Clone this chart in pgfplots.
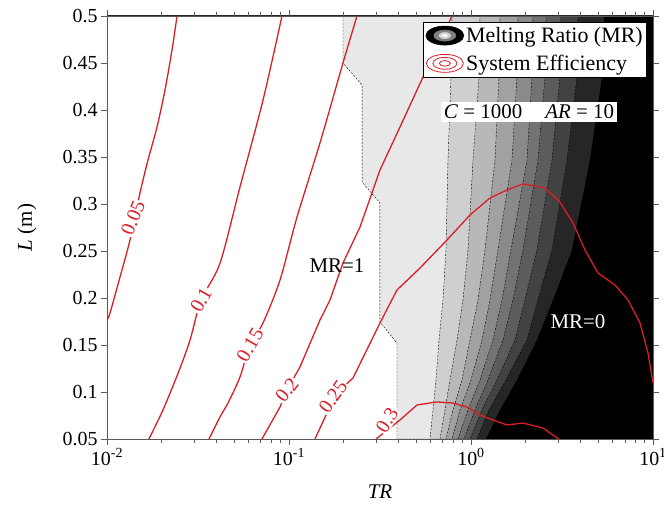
\documentclass[border=0pt]{standalone}
\usepackage{fontspec}
\setmainfont{Liberation Serif}
\usepackage{pgfplots}
\pgfplotsset{compat=1.18}
\definecolor{ered}{RGB}{218,30,40}
\definecolor{g1}{gray}{0.91}
\definecolor{g2}{gray}{0.81}
\definecolor{g3}{gray}{0.72}
\definecolor{g4}{gray}{0.63}
\definecolor{g5}{gray}{0.54}
\definecolor{g6}{gray}{0.45}
\definecolor{g7}{gray}{0.36}
\definecolor{g8}{gray}{0.26}
\definecolor{g9}{gray}{0.15}
\definecolor{axgray}{gray}{0.35}
\begin{document}
\begin{tikzpicture}
\begin{axis}[
  name=ax,
  scale only axis, width=546bp, height=423bp,
  xmode=log, xmin=0.01, xmax=10, ymin=0.05, ymax=0.5,
  xtick={0.01,0.1,1,10},
  xticklabels={10\textsuperscript{-2},10\textsuperscript{-1},10\textsuperscript{0},10\textsuperscript{1}},
  minor xtick={0.02,0.03,0.04,0.05,0.06,0.07,0.08,0.09,0.2,0.3,0.4,0.5,0.6,0.7,0.8,0.9,2,3,4,5,6,7,8,9},
  ytick={0.05,0.1,0.15,0.2,0.25,0.3,0.35,0.4,0.45,0.5},
  yticklabels={0.05,0.1,0.15,0.2,0.25,0.3,0.35,0.4,0.45,0.5},
  tick align=outside,
  major tick length=6bp, minor tick length=4bp,
  tick style={axgray, line width=0.6pt},
  axis line style={axgray, line width=0.7pt},
  ticklabel style={font=\fontsize{20}{24}\selectfont},
  xlabel={\textit{TR}}, ylabel={\textit{L} (m)},
  label style={font=\fontsize{21}{25}\selectfont},
  xlabel style={at={(axis description cs:0.5,-0.125)}, anchor=center},
  ylabel style={at={(axis description cs:-0.147,0.5)}, anchor=center},
  axis on top,
  legend cell align=left,
  legend style={at={(axis description cs:0.989,0.986)}, anchor=north east,
    draw=black, line width=0.6pt, fill=white, font=\fontsize{22}{26}\selectfont,
    inner xsep=2bp, inner ysep=3bp, row sep=7bp},
]
% ---- filled melting-ratio bands ----
\addplot[forget plot, fill=g1, draw=black, dash pattern=on 2bp off 1.5bp, line width=0.4pt] coordinates {(0.198,0.5)(0.198,0.45)(0.252,0.4266)(0.252,0.3234)(0.316,0.3011)(0.316,0.1745)(0.392,0.1521)(0.392,0.05)(10,0.05)(10,0.5)} -- cycle;
\addplot[forget plot, fill=g2, draw=black, dash pattern=on 2bp off 1.5bp, line width=0.4pt] coordinates {(0.7864,0.5)(0.7765,0.4351)(0.7475,0.3468)(0.7288,0.2511)(0.7017,0.1979)(0.6670,0.1553)(0.6423,0.1128)(0.6184,0.0809)(0.5952,0.05)(10,0.05)(10,0.5)} -- cycle;
\addplot[forget plot, fill=g3, draw=black, dash pattern=on 2bp off 1.5bp, line width=0.4pt] coordinates {(1.1207,0.5)(1.1066,0.4351)(1.0257,0.3468)(0.9627,0.2511)(0.9036,0.1979)(0.8379,0.1553)(0.7668,0.1128)(0.7196,0.0809)(0.6755,0.05)(10,0.05)(10,0.5)} -- cycle;
\addplot[forget plot, fill=g4, draw=black, dash pattern=on 2bp off 1.5bp, line width=0.4pt] coordinates {(1.4433,0.5)(1.4251,0.4351)(1.3547,0.3468)(1.1935,0.2511)(1.0926,0.1979)(0.9874,0.1553)(0.8923,0.1128)(0.7964,0.0809)(0.7288,0.05)(10,0.05)(10,0.5)} -- cycle;
\addplot[forget plot, fill=g5, draw=black, dash pattern=on 2bp off 1.5bp, line width=0.4pt] coordinates {(1.8124,0.5)(1.7896,0.4351)(1.6800,0.3468)(1.4072,0.2511)(1.2716,0.1979)(1.1493,0.1553)(1.0000,0.1128)(0.8701,0.0809)(0.7864,0.05)(10,0.05)(10,0.5)} -- cycle;
\addplot[forget plot, fill=g6, draw=black, dash pattern=on 2bp off 1.5bp, line width=0.4pt] coordinates {(2.1913,0.5)(2.1637,0.4351)(2.0310,0.3468)(1.6588,0.2511)(1.4803,0.1979)(1.3208,0.1553)(1.1207,0.1128)(0.9627,0.0809)(0.8485,0.05)(10,0.05)(10,0.5)} -- cycle;
\addplot[forget plot, fill=g7, draw=black, dash pattern=on 2bp off 1.5bp, line width=0.4pt] coordinates {(2.5834,0.5)(2.5505,0.4351)(2.3342,0.3468)(1.9307,0.2511)(1.7014,0.1979)(1.4993,0.1553)(1.2397,0.1128)(1.0519,0.0809)(0.9152,0.05)(10,0.05)(10,0.5)} -- cycle;
\addplot[forget plot, fill=g8, draw=black, dash pattern=on 2bp off 1.5bp, line width=0.4pt] coordinates {(3.1224,0.5)(3.0832,0.4351)(2.7870,0.3468)(2.3048,0.2511)(1.9802,0.1979)(1.7452,0.1553)(1.3895,0.1128)(1.1493,0.0809)(0.9874,0.05)(10,0.05)(10,0.5)} -- cycle;
\addplot[forget plot, fill=g9, draw=black, dash pattern=on 2bp off 1.5bp, line width=0.4pt] coordinates {(3.8714,0.5)(3.8227,0.4351)(3.3693,0.3468)(2.7870,0.2511)(2.3342,0.1979)(2.0310,0.1553)(1.5571,0.1128)(1.2556,0.0809)(1.0790,0.05)(10,0.05)(10,0.5)} -- cycle;
\addplot[forget plot, fill=black, draw=none] coordinates {(5.3810,0.5)(5.2464,0.4351)(4.5066,0.3468)(3.5888,0.2511)(2.8219,0.1979)(2.3048,0.1553)(1.7896,0.1128)(1.4433,0.0809)(1.2087,0.05)(10,0.05)(10,0.5)} -- cycle;
% ---- system efficiency contours ----
\addplot[forget plot, ered, line width=1.3pt, smooth] coordinates {(0.0100,0.1766)(0.01039,0.1840)(0.01179,0.2223)(0.01338,0.2617)(0.01518,0.3117)(0.01680,0.3468)(0.01883,0.3819)(0.02083,0.4213)(0.02276,0.4638)(0.02425,0.5)};
\addplot[forget plot, ered, line width=1.3pt, smooth] coordinates {(0.0170,0.05)(0.0203,0.0809)(0.0246,0.1202)(0.0286,0.1553)(0.0329,0.1979)(0.0418,0.2372)(0.0538,0.3181)(0.0720,0.4106)(0.0915,0.5)};
\addplot[forget plot, ered, line width=1.3pt, smooth] coordinates {(0.03634,0.05)(0.04177,0.0734)(0.04622,0.0883)(0.05381,0.1160)(0.06105,0.1500)(0.07197,0.1734)(0.08925,0.2191)(0.1107,0.2862)(0.1480,0.3649)(0.1980,0.4500)(0.2364,0.5)};
\addplot[forget plot, ered, line width=1.3pt] coordinates {(0.07106,0.05)(0.08925,0.0840)(0.0975,0.1021)(0.1149,0.1266)(0.1480,0.1766)(0.1680,0.1979)(0.1980,0.2372)(0.2456,0.2755)(0.3162,0.3362)(0.4073,0.3819)(0.5450,0.4351)(0.7864,0.5)};
\addplot[forget plot, ered, line width=1.3pt] coordinates {(0.13895,0.05)(0.16173,0.0777)(0.17449,0.0947)(0.22473,0.1149)(0.31623,0.1734)(0.39200,0.2085)(0.52464,0.2319)(0.73811,0.2617)(0.98743,0.2883)(1.2716,0.3064)(1.5769,0.3149)(1.9307,0.3213)(2.2473,0.3191)(2.5505,0.3170)(3.0832,0.3021)(3.6342,0.2798)(4.2301,0.2511)(4.9866,0.2266)(6.1832,0.2138)(7.2883,0.1979)(8.4834,0.1734)(9.3876,0.1415)(10,0.1096)};
\addplot[forget plot, ered, line width=1.3pt] coordinates {(0.30063,0.05)(0.35885,0.0617)(0.4073,0.0702)(0.50505,0.0862)(0.65036,0.0894)(0.79640,0.0883)(0.95068,0.0840)(1.1207,0.0755)(1.3208,0.0702)(1.5769,0.0649)(1.9307,0.0670)(2.4869,0.0617)(2.9684,0.0511)(3.0444,0.05)};
% ---- contour labels ----
\begin{scope}[every node/.style={text=ered, fill=white, inner sep=1bp, font=\fontsize{20}{22}\selectfont}]
\node[rotate=68] at (axis cs:0.01389,0.2851) {0.05};
\node[rotate=60] at (axis cs:0.0329,0.1979) {0.1};
\node[rotate=60] at (axis cs:0.06105,0.1500) {0.15};
\node[rotate=52] at (axis cs:0.0975,0.1021) {0.2};
\node[rotate=55] at (axis cs:0.17449,0.0947) {0.25};
\node[rotate=58] at (axis cs:0.3455,0.0702) {0.3};
\end{scope}
% ---- annotations ----
\node[font=\fontsize{21}{25}\selectfont] at (axis cs:0.1835,0.234) {MR=1};
\node[text=white, font=\fontsize{21}{25}\selectfont] at (axis cs:3.871,0.1745) {MR=0};
\node[fill=white, inner sep=3bp, font=\fontsize{21}{25}\selectfont] at (axis cs:2.083,0.398) {\textit{C} = 1000\hspace{1.1em}\textit{AR} = 10};
\draw[black!85, line width=1.3pt] (rel axis cs:0,1) -- (rel axis cs:1,1);
% ---- legend ----
\addlegendimage{legend image code/.code={
  \fill[black] (20bp,0) ellipse [x radius=19bp, y radius=9.5bp];
  \fill[gray] (20bp,0) ellipse [x radius=11bp, y radius=5.5bp];
  \fill[gray!35] (20bp,0) ellipse [x radius=6bp, y radius=3bp];
  \fill[white] (20bp,0) ellipse [x radius=2.5bp, y radius=1.2bp];
}}
\addlegendentry{Melting Ratio (MR)}
\addlegendimage{legend image code/.code={
  \draw[ered, line width=0.8pt] (20bp,0) ellipse [x radius=18.5bp, y radius=9bp];
  \draw[ered, line width=0.8pt] (20bp,0) ellipse [x radius=12bp, y radius=6bp];
  \draw[ered, line width=0.8pt] (20bp,0) ellipse [x radius=5.5bp, y radius=2.8bp];
}}
\addlegendentry{System Efficiency}
\end{axis}
\pgfresetboundingbox
\path ([shift={(-107bp,-74bp)}]ax.south west) rectangle ([shift={(11bp,16bp)}]ax.north east);
\end{tikzpicture}
\end{document}
